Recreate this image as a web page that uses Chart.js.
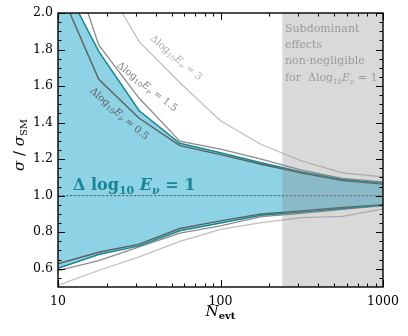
<!DOCTYPE html>
<html><head><meta charset="utf-8">
<script src="https://cdn.jsdelivr.net/npm/chart.js@4"></script>
<style>html,body{margin:0;padding:0;background:#fff;}</style>
</head><body>
<canvas id="c" width="408" height="336"></canvas>
<script>
// ---- data ----
const N = [10, 17.8, 31.6, 56.2, 100, 178, 316, 562, 1000];
const band1Upper = [2.22, 1.79, 1.465, 1.287, 1.235, 1.18, 1.13, 1.088, 1.068];
const band1Lower = [0.603, 0.678, 0.725, 0.808, 0.85, 0.893, 0.91, 0.93, 0.948];
const d05Upper  = [2.15, 1.637, 1.424, 1.274, 1.225, 1.172, 1.124, 1.083, 1.063];
const d05Lower  = [0.627, 0.69, 0.735, 0.82, 0.862, 0.9, 0.917, 0.935, 0.951];
const d15Upper  = [2.49, 1.825, 1.533, 1.298, 1.255, 1.2, 1.14, 1.095, 1.075];
const d15Lower  = [0.59, 0.645, 0.72, 0.795, 0.835, 0.885, 0.903, 0.925, 0.945];
const d3Upper   = [2.9, 2.22, 1.843, 1.618, 1.41, 1.28, 1.19, 1.125, 1.103];
const d3Lower   = [0.51, 0.59, 0.665, 0.75, 0.815, 0.852, 0.88, 0.887, 0.928];
const subdominantStart = 240;
const xMajorTicks = [10, 100, 1000];
const yMajorTicks = [0.6, 0.8, 1.0, 1.2, 1.4, 1.6, 1.8, 2.0];

// ---- styles ----
const TEAL = 'rgb(24,133,146)';
const BLUE = 'rgb(142,211,229)';
const C05 = 'rgb(95,95,95)';
const C15 = 'rgb(140,140,140)';
const C3  = 'rgb(190,190,190)';
const SERIF = '"DejaVu Serif", serif';

const pts = arr => N.map((n, i) => ({x: n, y: arr[i]}));
const line = (arr, color, w, extra) => Object.assign({
  data: pts(arr), borderColor: color, borderWidth: w, pointRadius: 0, tension: 0, fill: false
}, extra || {});

function rich(ctx, segs, x, y, align) {
  let w = 0;
  segs.forEach(s => { ctx.font = s.f; s.w = ctx.measureText(s.t).width; w += s.w; });
  let cx = align === 'center' ? x - w / 2 : x;
  segs.forEach(s => { ctx.font = s.f; ctx.fillText(s.t, cx, y + (s.dy || 0)); cx += s.w; });
}
function deltaLabel(size, val, bold) {
  const b = bold ? 'bold ' : '';
  const sub = Math.round(size * 0.68);
  return [
    {t: 'Δlog', f: b + size + 'px ' + SERIF},
    {t: '10', f: b + sub + 'px ' + SERIF, dy: size * 0.3},
    {t: 'E', f: 'italic ' + b + size + 'px ' + SERIF},
    {t: 'ν', f: 'italic ' + b + sub + 'px ' + SERIF, dy: size * 0.3},
    {t: ' = ' + val, f: b + size + 'px ' + SERIF}
  ];
}

const deco = {
  id: 'deco',
  afterDatasetsDraw(chart) {
    const {ctx, chartArea: a, scales: {x, y}} = chart;
    ctx.save();
    // dashed reference line at 1
    ctx.strokeStyle = '#444'; ctx.lineWidth = 0.8; ctx.setLineDash([2.5, 1.5]);
    const y1 = y.getPixelForValue(1.0);
    ctx.beginPath(); ctx.moveTo(a.left, y1); ctx.lineTo(a.right, y1); ctx.stroke();
    ctx.setLineDash([]);
    // main band label
    ctx.fillStyle = TEAL; ctx.textBaseline = 'alphabetic';
    rich(ctx, [
      {t: 'Δ log', f: 'bold 16px ' + SERIF},
      {t: '10', f: 'bold 11px ' + SERIF, dy: 4},
      {t: ' E', f: 'italic bold 16px ' + SERIF},
      {t: 'ν', f: 'italic bold 11px ' + SERIF, dy: 4},
      {t: ' = 1', f: 'bold 16px ' + SERIF}
    ], 73, 190, 'left');
    // rotated labels
    const rot = (cx, cy, ang, val, col) => {
      ctx.save(); ctx.translate(cx, cy); ctx.rotate(ang * Math.PI / 180);
      ctx.fillStyle = col; ctx.textBaseline = 'middle';
      rich(ctx, deltaLabel(10, val, false), 0, 0, 'center');
      ctx.restore();
    };
    rot(176, 58, 40, '3', 'rgb(170,170,170)');
    rot(147, 87, 38, '1.5', 'rgb(128,128,128)');
    rot(119, 114, 41, '0.5', 'rgb(95,95,95)');
    // subdominant region
    const xs = x.getPixelForValue(subdominantStart);
    ctx.fillStyle = 'rgba(128,128,128,0.3)';
    ctx.fillRect(xs, a.top, a.right - xs, a.bottom - a.top);
    ctx.fillStyle = 'rgb(155,155,155)'; ctx.textBaseline = 'alphabetic';
    ctx.font = '11px ' + SERIF;
    ctx.fillText('Subdominant', 285, 32);
    ctx.fillText('effects', 285, 48);
    ctx.fillText('non-negligible', 285, 64);
    rich(ctx, [{t: 'for  ', f: '11px ' + SERIF}].concat(deltaLabel(11, '1', false)), 285, 81, 'left');
    ctx.restore();
  },
  afterDraw(chart) {
    const {ctx, chartArea: a, scales: {x, y}} = chart;
    ctx.save();
    ctx.strokeStyle = '#000'; ctx.lineWidth = 1;
    const tick = (x0, y0, x1, y1) => { ctx.beginPath(); ctx.moveTo(x0, y0); ctx.lineTo(x1, y1); ctx.stroke(); };
    // x ticks (log)
    for (let d = 10; d < 1000; d *= 10) {
      for (let m = 1; m <= 10; m++) {
        const v = d * m; const px = Math.round(x.getPixelForValue(v)) + 0.5;
        const major = xMajorTicks.includes(v); const L = major ? 7 : 3.5;
        tick(px, a.bottom, px, a.bottom - L); tick(px, a.top, px, a.top + L);
      }
    }
    // y ticks
    for (let k = 11; k <= 40; k++) {
      const v = k * 0.05; const py = Math.round(y.getPixelForValue(v)) + 0.5;
      const major = yMajorTicks.some(t => Math.abs(t - v) < 1e-6); const L = major ? 7 : 3.5;
      tick(a.left, py, a.left + L, py); tick(a.right, py, a.right - L, py);
    }
    // frame
    ctx.lineWidth = 1.4;
    ctx.strokeRect(a.left, a.top, a.right - a.left, a.bottom - a.top);
    // axis titles
    ctx.fillStyle = '#000'; ctx.textBaseline = 'alphabetic';
    rich(ctx, [
      {t: 'N', f: 'italic 15px ' + SERIF},
      {t: 'evt', f: 'bold 10px ' + SERIF, dy: 3}
    ], (a.left + a.right) / 2, 316, 'center');
    ctx.save(); ctx.translate(24, (a.top + a.bottom) / 2 - 5); ctx.rotate(-Math.PI / 2);
    rich(ctx, [
      {t: 'σ', f: 'italic 15px ' + SERIF},
      {t: ' / ', f: '15px ' + SERIF},
      {t: 'σ', f: 'italic 15px ' + SERIF},
      {t: 'SM', f: '10px ' + SERIF, dy: 3}
    ], 0, 0, 'center');
    ctx.restore();
    ctx.restore();
  }
};

new Chart(document.getElementById('c'), {
  type: 'line',
  data: {
    datasets: [
      line(band1Upper, TEAL, 1.5, {fill: '+1', backgroundColor: BLUE}),
      line(band1Lower, TEAL, 1.5),
      line(d05Upper, C05, 1.4),
      line(d05Lower, C05, 1.4),
      line(d15Upper, C15, 1.3),
      line(d15Lower, C15, 1.3),
      line(d3Upper, C3, 1.2),
      line(d3Lower, C3, 1.2)
    ]
  },
  options: {
    responsive: false, animation: false, devicePixelRatio: 1,
    layout: {padding: {left: 0, right: 25, top: 13, bottom: 0}},
    plugins: {legend: {display: false}, tooltip: {enabled: false}, filler: {drawTime: 'beforeDatasetsDraw'}},
    scales: {
      x: {
        type: 'logarithmic', min: 10, max: 1000,
        grid: {display: false, drawTicks: false}, border: {display: false},
        ticks: {
          autoSkip: false, maxRotation: 0, padding: 7, color: '#000',
          font: {family: SERIF, size: 12.5},
          callback: v => xMajorTicks.includes(v) ? String(v) : null
        },
        afterFit: s => { s.height = 49; }
      },
      y: {
        type: 'linear', min: 0.5, max: 2.0,
        grid: {display: false, drawTicks: false}, border: {display: false},
        ticks: {
          stepSize: 0.2, padding: 5, color: '#000',
          font: {family: SERIF, size: 12.5},
          callback: v => yMajorTicks.some(t => Math.abs(t - v) < 1e-6) ? v.toFixed(1) : null
        },
        afterFit: s => { s.width = 58; }
      }
    }
  },
  plugins: [deco]
});
</script>
</body></html>
